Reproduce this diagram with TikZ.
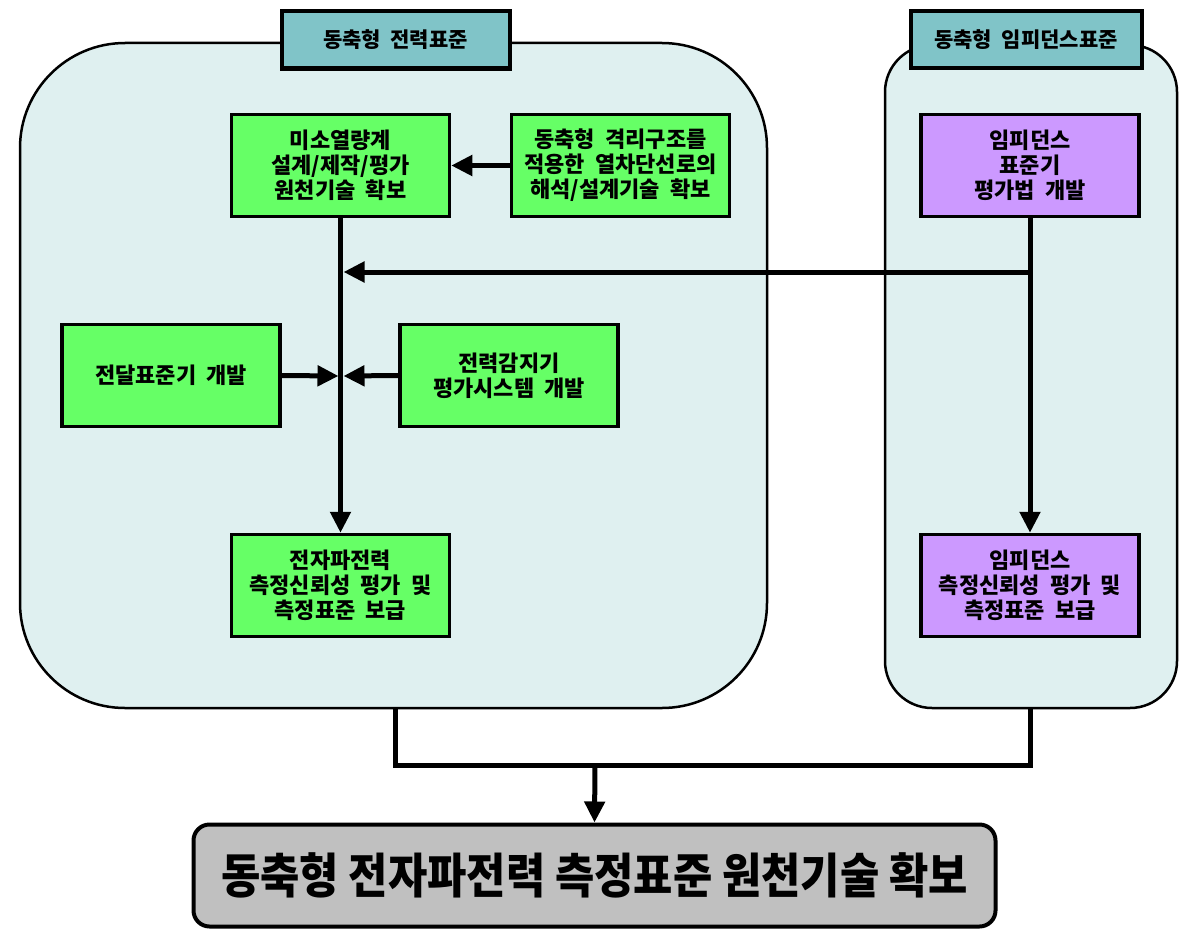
\documentclass[tikz,border=0pt]{standalone}
\usepackage{fontspec}
\newfontfamily\kr{Noto Sans CJK KR}
\usetikzlibrary{arrows.meta}
\definecolor{contfill}{HTML}{DFF0F0}
\definecolor{titlefill}{HTML}{80C4C8}
\definecolor{greenfill}{HTML}{66FF66}
\definecolor{purplefill}{HTML}{CC99FF}
\definecolor{grayfill}{HTML}{C0C0C0}
\tikzset{
  cont/.style={draw=black, line width=2.5pt, fill=contfill},
  titlebox/.style={draw=black, line width=4pt, fill=titlefill, minimum height=57pt, inner sep=0pt, font=\kr\bfseries\fontsize{21}{25}\selectfont},
  gbox/.style={draw=black, line width=3.5pt, fill=greenfill, minimum width=218pt, minimum height=102pt, inner sep=0pt, align=center, font=\kr\bfseries\fontsize{22}{25}\selectfont},
  pbox/.style={gbox, fill=purplefill},
  conn/.style={line width=5pt, line cap=butt, line join=miter},
  arr/.style={conn, -{Triangle[length=21pt,width=20pt]}},
}
\begin{document}
\begin{tikzpicture}[x=1pt,y=-1pt]
\useasboundingbox (0,0) rectangle (1196,934);
% containers
\draw[cont, rounded corners=105pt] (20,43) rectangle (767,708);
\draw[cont, rounded corners=47pt] (885,45) rectangle (1177,708);
\coordinate (Lb) at (395,708);
\coordinate (Rb) at (1030,708);
% titles
\node[titlebox, minimum width=228pt] (t1) at (395.5,40) {동축형\ \ 전력표준};
\node[titlebox, minimum width=231pt] (t2) at (1026,39.5) {동축형\ \ 임피던스표준};
% boxes
\node[gbox] (a) at (340.5,165.5) {미소열량계\\설계/제작/평가\\원천기술\ \ 확보};
\node[gbox] (b) at (620.5,165.5) {동축형\ \ 격리구조를\\적용한\ \ 열차단선로의\\해석/설계기술\ \ 확보};
\node[gbox] (c) at (171,375.5) {전달표준기\ \ 개발};
\node[gbox] (d) at (509,375.5) {전력감지기\\평가시스템\ \ 개발};
\node[gbox] (e) at (340.5,585.5) {전자파전력\\측정신뢰성\ \ 평가\ \ 및\\측정표준\ \ 보급};
\node[pbox] (f) at (1030,165.5) {임피던스\\표준기\\평가법\ \ 개발};
\node[pbox] (g) at (1030,585.5) {임피던스\\측정신뢰성\ \ 평가\ \ 및\\측정표준\ \ 보급};
\node[draw=black, line width=4pt, fill=grayfill, rounded corners=16pt, minimum width=802pt, minimum height=102pt, inner sep=0pt] (h) at (594.5,875.5)
  {\kr\bfseries\fontsize{48}{54}\selectfont\scalebox{0.89}[1]{동축형 전자파전력 측정표준 원천기술 확보}};
% junctions
\coordinate (j1) at (341,272);
\coordinate (j2) at (341,376);
\coordinate (fj) at (1030,272);
\coordinate (m) at (595,765);
% connectors
\draw[arr] (a.south) -- (e.north);
\draw[arr] (b.west) -- (a.east);
\draw[arr] (f.south) -- (g.north);
\draw[arr] (fj) -- ([xshift=2.5pt]j1);
\draw[arr] (c.east) -- ([xshift=-2.5pt]j2);
\draw[arr] (d.west) -- ([xshift=2.5pt]j2);
\draw[conn] (Lb) |- (m) -| (Rb);
\draw[arr] (m) -- (h.north);
\end{tikzpicture}
\end{document}
